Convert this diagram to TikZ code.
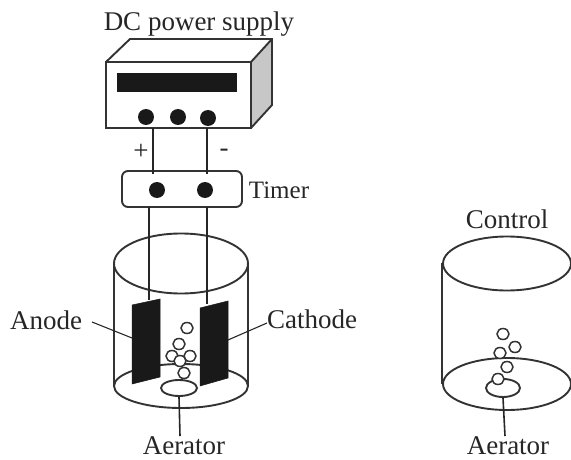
\documentclass[tikz,border=0pt]{standalone}
\usepackage{fontspec}
\setmainfont{Liberation Serif}
\tikzset{
  label/.style={font=\fontsize{27}{30}\selectfont,text=black!85,inner sep=0pt},
  wire/.style={line width=1.6pt,black!85},
  outline/.style={line width=1.9pt,black!80},
  knob/.style={circle,fill=black!90,inner sep=0pt,minimum size=16pt},
  bubble/.style={ellipse,draw=black!80,line width=1.5pt,fill=white,inner sep=0pt,minimum width=12pt,minimum height=11pt},
  plate/.style={fill=black!90,draw=black!90,line width=.5pt}
}
\usetikzlibrary{shapes.geometric}
\begin{document}
\begin{tikzpicture}[x=1pt,y=-1pt]
  \useasboundingbox (0,0) rectangle (571,460);
  % power supply
  \fill[black!22] (251,62) -- (272,39) -- (272,105) -- (251,128) -- cycle;
  \draw[outline] (106,62) -- (130,39) -- (272,39) -- (272,105) -- (251,128);
  \draw[outline] (251,62) -- (272,39);
  \node[draw,outline,rectangle,inner sep=0pt,minimum width=145pt,minimum height=66pt] (supply) at (178.5,95) {};
  \node[fill=black!90,inner sep=0pt,minimum width=120pt,minimum height=19pt] (display) at (177,82.5) {};
  \node[knob] (knobA) at (146,117) {};
  \node[knob] (knobB) at (178,117) {};
  \node[knob] (knobC) at (208,118) {};
  \node[label] (title) at (199,24) {DC power supply};
  % timer
  \node[draw,outline,rectangle,rounded corners=6pt,inner sep=0pt,minimum width=120pt,minimum height=36pt] (timer) at (182,189) {};
  \node[knob] (timerA) at (157,190) {};
  \node[knob] (timerB) at (205,190) {};
  \node[label,font=\fontsize{25}{28}\selectfont] (timerlabel) at (279,190) {Timer};
  \coordinate (plusTop) at (153,128);
  \coordinate (plusEnd) at (153,174);
  \coordinate (minusTop) at (207,128);
  \coordinate (minusEnd) at (207,174);
  \draw[wire] (plusTop) -- (plusEnd);
  \draw[wire] (minusTop) -- (minusEnd);
  \node[label] (plus) at (141,152) {+};
  \node[label] (minus) at (224,153) {-};
  % reactor
  \draw[outline] (114,263) -- (114,386);
  \draw[outline] (248,263) -- (248,386);
  \draw[outline] (181,263.5) ellipse (67pt and 30pt);
  \draw[outline] (181,386) ellipse (67pt and 22pt);
  \node[ellipse,draw,outline,inner sep=0pt,minimum width=36pt,minimum height=16pt] (aeratorA) at (179,388) {};
  \coordinate (anodeTop) at (149,300);
  \coordinate (cathodeTop) at (207,304);
  \coordinate (anodeWire) at (149,207);
  \coordinate (cathodeWire) at (207,207);
  \draw[wire] (anodeWire) -- (anodeTop);
  \draw[wire] (cathodeWire) -- (cathodeTop);
  \fill[plate] (132,305) -- (160,299) -- (160,377) -- (132,384) -- cycle;
  \fill[plate] (200,308) -- (228,301) -- (228,378) -- (200,386) -- cycle;
  \coordinate (anodePlate) at (132,338);
  \coordinate (cathodePlate) at (228,340);
  \node[bubble] (b1) at (187,328) {};
  \node[bubble] (b2) at (179,344) {};
  \node[bubble] (b3) at (172,356) {};
  \node[bubble] (b4) at (190,356) {};
  \node[bubble] (b5) at (180,361) {};
  \node[bubble] (b6) at (184,373) {};
  \node[label] (anode) at (46,320) {Anode};
  \node[label] (cathode) at (312,319) {Cathode};
  \node[label] (aeratorlabelA) at (184,446) {Aerator};
  \draw[wire,line width=1.1pt] (92,322) -- (anodePlate);
  \draw[wire,line width=1.1pt] (cathodePlate) -- (267,323);
  \draw[wire] (aeratorA.south) -- (180,436);
  % control
  \node[label] (control) at (507,219) {Control};
  \draw[outline] (442,263) -- (442,384);
  \draw[outline] (507,263.5) ellipse (64pt and 27pt);
  \draw[outline] (507,384) ellipse (64pt and 26pt);
  \node[ellipse,draw,outline,inner sep=0pt,minimum width=34pt,minimum height=18pt] (aeratorB) at (503,388) {};
  \node[bubble] (c1) at (503,334) {};
  \node[bubble] (c2) at (500,353) {};
  \node[bubble] (c3) at (515,347) {};
  \node[bubble] (c4) at (507,367) {};
  \node[bubble] (c5) at (498,379) {};
  \node[label] (aeratorlabelB) at (508,446) {Aerator};
  \draw[wire] (aeratorB.south) -- (505,436);
\end{tikzpicture}
\end{document}
